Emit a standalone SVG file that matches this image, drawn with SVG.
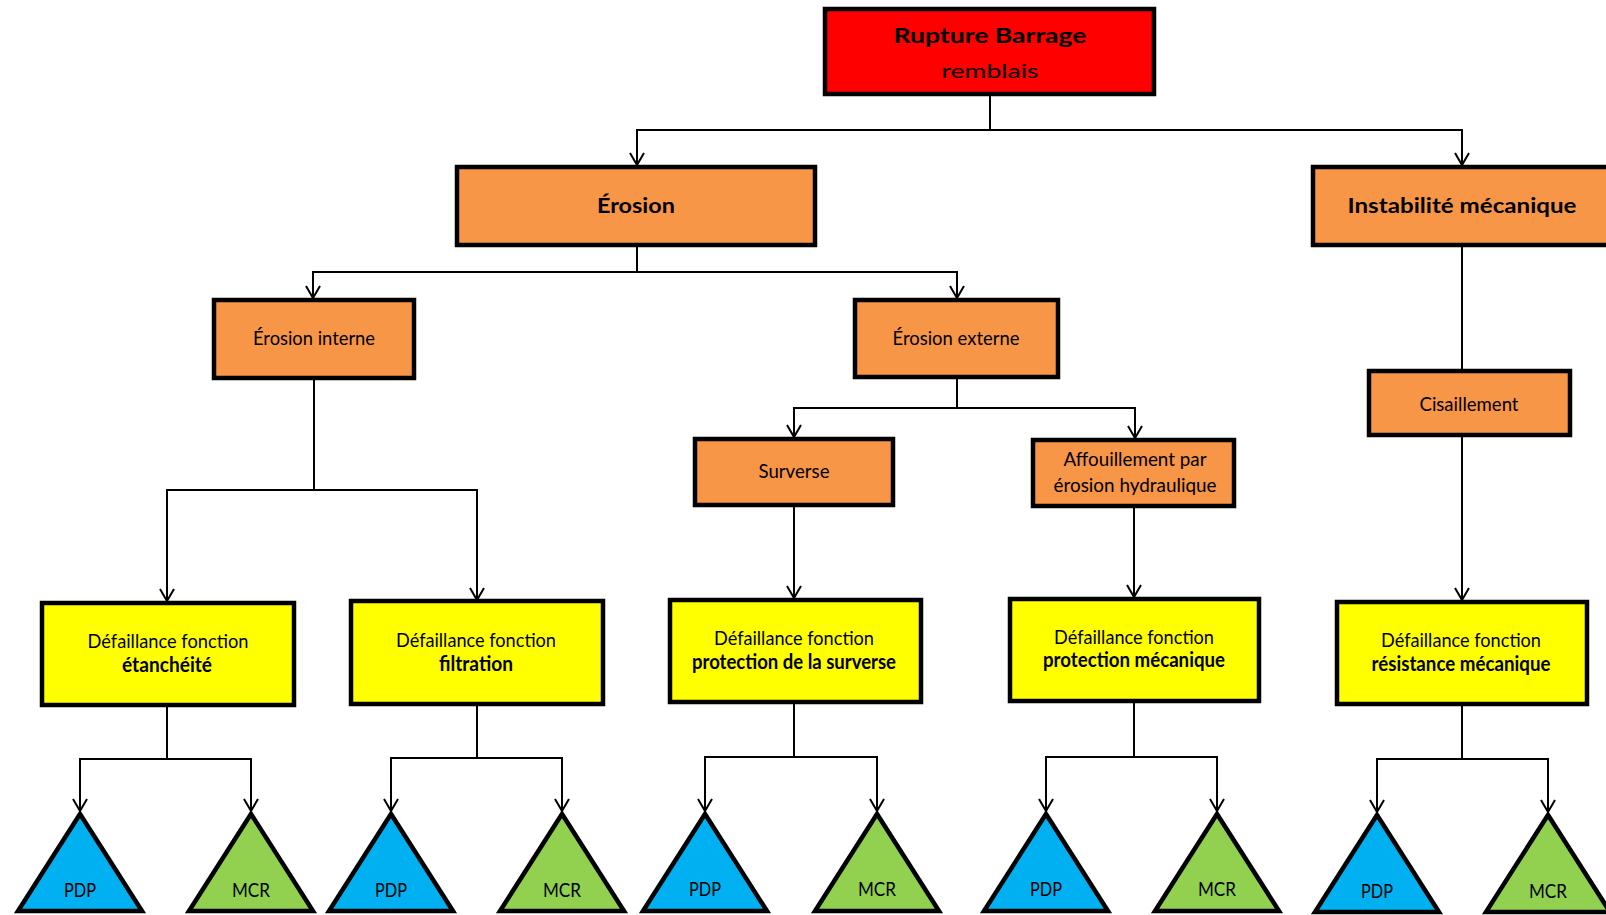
<svg xmlns="http://www.w3.org/2000/svg" width="1606" height="915" viewBox="0 0 1606 915">
<style>
.box{stroke:#000;stroke-width:4.5;stroke-linejoin:miter}
.red{fill:#FF0000}.org{fill:#F79646}.yel{fill:#FFFF00}.blu{fill:#00B0F0}.grn{fill:#92D050}
.tri{stroke:#000;stroke-width:4.5;stroke-linejoin:miter}
text{font-family:Lato,"Open Sans","Liberation Sans",sans-serif;fill:#000;text-anchor:middle;font-size:20px}
.b{font-weight:bold}
.conn path{fill:none;stroke:#000;stroke-width:2}
.ah path{fill:none;stroke:#000;stroke-width:2}
</style>
<rect width="1606" height="915" fill="#fff"/>
<g id="connectors">
<g class="conn">
<path d="M990,96 V130 H637 V165"/>
<path d="M990,130 H1462 V165"/>
<path d="M637,247 V272 H313 V298"/>
<path d="M637,272 H957 V298"/>
<path d="M314,380 V490 H167 V601"/>
<path d="M314,490 H477 V600"/>
<path d="M957,379 V408 H794 V437"/>
<path d="M957,408 H1135 V438"/>
<path d="M794,507 V598"/>
<path d="M1134,508 V597"/>
<path d="M1462,247 V369"/>
<path d="M1462,437 V600"/>
<path d="M167,707 V759 H80 V811"/>
<path d="M167,759 H251 V811"/>
<path d="M477,706 V758 H391 V811"/>
<path d="M477,758 H562 V811"/>
<path d="M794,704 V757 H705 V811"/>
<path d="M794,757 H877 V811"/>
<path d="M1134,703 V757 H1046 V811"/>
<path d="M1134,757 H1217 V811"/>
<path d="M1462,706 V759 H1377 V812"/>
<path d="M1462,759 H1548 V812"/>
</g>
<g class="ah">
<path d="M630,153 L637,165 L644,153"/>
<path d="M1455,153 L1462,165 L1469,153"/>
<path d="M306,286 L313,298 L320,286"/>
<path d="M950,286 L957,298 L964,286"/>
<path d="M160,589 L167,601 L174,589"/>
<path d="M470,588 L477,600 L484,588"/>
<path d="M787,425 L794,437 L801,425"/>
<path d="M1128,426 L1135,438 L1142,426"/>
<path d="M787,586 L794,598 L801,586"/>
<path d="M1127,585 L1134,597 L1141,585"/>
<path d="M1455,588 L1462,600 L1469,588"/>
<path d="M73,799 L80,811 L87,799"/>
<path d="M244,799 L251,811 L258,799"/>
<path d="M384,799 L391,811 L398,799"/>
<path d="M555,799 L562,811 L569,799"/>
<path d="M698,799 L705,811 L712,799"/>
<path d="M870,799 L877,811 L884,799"/>
<path d="M1039,799 L1046,811 L1053,799"/>
<path d="M1210,799 L1217,811 L1224,799"/>
<path d="M1370,800 L1377,812 L1384,800"/>
<path d="M1541,800 L1548,812 L1555,800"/>
</g>
</g>
<g id="root">
<rect class="box red" x="825" y="9" width="329" height="85"/>
<text class="b" x="990" y="43" font-size="24" textLength="193" lengthAdjust="spacingAndGlyphs">Rupture Barrage</text>
<text x="990" y="78" font-size="24" textLength="97" lengthAdjust="spacingAndGlyphs">remblais</text>
</g>
<g id="erosion">
<rect class="box org" x="457" y="167" width="358" height="78"/>
<text class="b" x="636" y="213" font-size="23" textLength="78" lengthAdjust="spacingAndGlyphs">Érosion</text>
</g>
<g id="instabilite">
<rect class="box org" x="1313" y="167" width="298" height="78"/>
<text class="b" x="1462" y="213" font-size="23" textLength="229" lengthAdjust="spacingAndGlyphs">Instabilité mécanique</text>
</g>
<g id="erosion-interne">
<rect class="box org" x="214" y="300" width="200" height="78"/>
<text x="314" y="345" textLength="122" lengthAdjust="spacingAndGlyphs">Érosion interne</text>
</g>
<g id="erosion-externe">
<rect class="box org" x="855" y="300" width="203" height="77"/>
<text x="956" y="345" textLength="127" lengthAdjust="spacingAndGlyphs">Érosion externe</text>
</g>
<g id="surverse">
<rect class="box org" x="695" y="439" width="198" height="66"/>
<text x="794" y="478" textLength="71" lengthAdjust="spacingAndGlyphs">Surverse</text>
</g>
<g id="affouillement">
<rect class="box org" x="1033" y="440" width="201" height="66"/>
<text x="1135" y="466" textLength="143" lengthAdjust="spacingAndGlyphs">Affouillement par</text>
<text x="1135" y="492" textLength="163" lengthAdjust="spacingAndGlyphs">érosion hydraulique</text>
</g>
<g id="cisaillement">
<rect class="box org" x="1369" y="371" width="201" height="64"/>
<text x="1469" y="411" textLength="99" lengthAdjust="spacingAndGlyphs">Cisaillement</text>
</g>
<g id="def-etancheite">
<rect class="box yel" x="42" y="603" width="252" height="102"/>
<text x="168" y="648" textLength="161" lengthAdjust="spacingAndGlyphs">Défaillance fonction</text>
<text class="b" x="167" y="672" textLength="90" lengthAdjust="spacingAndGlyphs">étanchéité</text>
</g>
<g id="def-filtration">
<rect class="box yel" x="351" y="601" width="252" height="103"/>
<text x="476" y="647" textLength="160" lengthAdjust="spacingAndGlyphs">Défaillance fonction</text>
<text class="b" x="476" y="671" textLength="74" lengthAdjust="spacingAndGlyphs">filtration</text>
</g>
<g id="def-surverse">
<rect class="box yel" x="670" y="600" width="251" height="102"/>
<text x="794" y="645" textLength="160" lengthAdjust="spacingAndGlyphs">Défaillance fonction</text>
<text class="b" x="794" y="669" textLength="204" lengthAdjust="spacingAndGlyphs">protection de la surverse</text>
</g>
<g id="def-protection-mecanique">
<rect class="box yel" x="1010" y="599" width="249" height="102"/>
<text x="1134" y="644" textLength="160" lengthAdjust="spacingAndGlyphs">Défaillance fonction</text>
<text class="b" x="1134" y="667" textLength="182" lengthAdjust="spacingAndGlyphs">protection mécanique</text>
</g>
<g id="def-resistance">
<rect class="box yel" x="1337" y="602" width="250" height="102"/>
<text x="1461" y="647" textLength="160" lengthAdjust="spacingAndGlyphs">Défaillance fonction</text>
<text class="b" x="1461" y="671" textLength="179" lengthAdjust="spacingAndGlyphs">résistance mécanique</text>
</g>
<g id="pdp1"><polygon class="tri blu" points="80,814 18,911 142,911"/><text x="80" y="897" textLength="32" lengthAdjust="spacingAndGlyphs">PDP</text></g>
<g id="mcr1"><polygon class="tri grn" points="251,814 189,911 313,911"/><text x="251" y="897" textLength="38" lengthAdjust="spacingAndGlyphs">MCR</text></g>
<g id="pdp2"><polygon class="tri blu" points="391,814 329,911 453,911"/><text x="391" y="897" textLength="32" lengthAdjust="spacingAndGlyphs">PDP</text></g>
<g id="mcr2"><polygon class="tri grn" points="562,814 500,911 624,911"/><text x="562" y="897" textLength="38" lengthAdjust="spacingAndGlyphs">MCR</text></g>
<g id="pdp3"><polygon class="tri blu" points="705,814 643,911 767,911"/><text x="705" y="896" textLength="32" lengthAdjust="spacingAndGlyphs">PDP</text></g>
<g id="mcr3"><polygon class="tri grn" points="877,814 815,911 939,911"/><text x="877" y="896" textLength="38" lengthAdjust="spacingAndGlyphs">MCR</text></g>
<g id="pdp4"><polygon class="tri blu" points="1046,814 984,911 1108,911"/><text x="1046" y="896" textLength="32" lengthAdjust="spacingAndGlyphs">PDP</text></g>
<g id="mcr4"><polygon class="tri grn" points="1217,814 1155,911 1279,911"/><text x="1217" y="896" textLength="38" lengthAdjust="spacingAndGlyphs">MCR</text></g>
<g id="pdp5"><polygon class="tri blu" points="1377,815 1315,912 1439,912"/><text x="1377" y="898" textLength="32" lengthAdjust="spacingAndGlyphs">PDP</text></g>
<g id="mcr5"><polygon class="tri grn" points="1548,815 1486,912 1610,912"/><text x="1548" y="898" textLength="38" lengthAdjust="spacingAndGlyphs">MCR</text></g>
</svg>
